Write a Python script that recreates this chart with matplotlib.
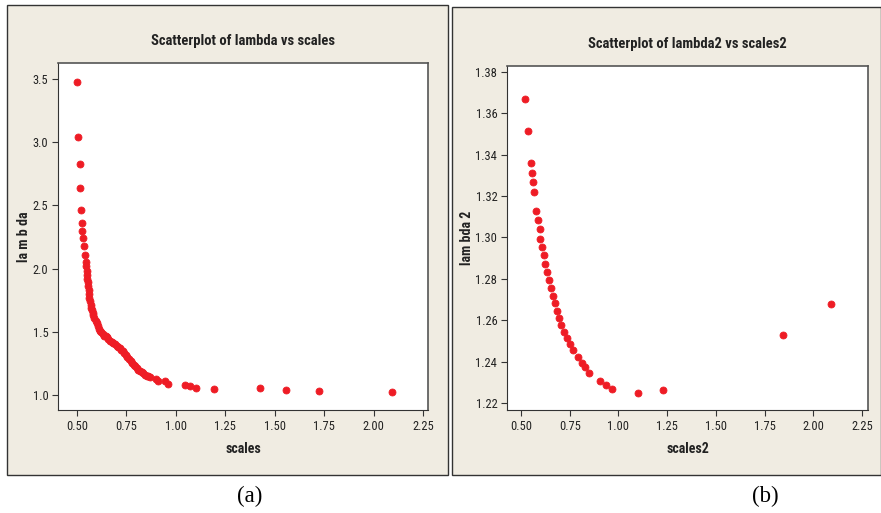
import matplotlib
matplotlib.use("Agg")
import matplotlib.pyplot as plt
from matplotlib.patches import Rectangle

# ==================================
# DATA
# ==================================
scales = [0.500, 0.507, 0.513, 0.517, 0.522, 0.525, 0.527, 0.532, 0.537, 0.540,
          0.545, 0.547, 0.549, 0.551, 0.553, 0.555, 0.557, 0.559, 0.561, 0.563,
          0.566, 0.569, 0.572, 0.575, 0.579, 0.583, 0.588, 0.594, 0.600, 0.606,
          0.612, 0.616, 0.622, 0.630, 0.638, 0.645, 0.650, 0.658, 0.666, 0.675,
          0.684, 0.692, 0.700, 0.709, 0.716, 0.724, 0.732, 0.740, 0.747, 0.755,
          0.763, 0.771, 0.779, 0.787, 0.795, 0.803, 0.811, 0.819, 0.828, 0.836,
          0.845, 0.852, 0.861, 0.869, 0.900, 0.911, 0.945, 0.962, 1.047, 1.072,
          1.102, 1.195, 1.424, 1.556, 1.725, 2.091]
lam = [3.48, 3.04, 2.83, 2.64, 2.46, 2.36, 2.30, 2.24, 2.18, 2.11,
       2.055, 2.02, 1.98, 1.95, 1.92, 1.89, 1.86, 1.83, 1.80, 1.77,
       1.74, 1.71, 1.69, 1.67, 1.65, 1.63, 1.61, 1.585, 1.567, 1.545,
       1.525, 1.51, 1.50, 1.485, 1.47, 1.465, 1.46, 1.445, 1.43, 1.42,
       1.41, 1.40, 1.39, 1.38, 1.37, 1.355, 1.345, 1.33, 1.315, 1.30,
       1.285, 1.27, 1.255, 1.24, 1.228, 1.215, 1.20, 1.19, 1.178, 1.17,
       1.16, 1.15, 1.152, 1.145, 1.13, 1.113, 1.11, 1.088, 1.079, 1.071,
       1.058, 1.047, 1.053, 1.040, 1.032, 1.021]

scales2 = [0.522, 0.536, 0.551, 0.556, 0.560, 0.568, 0.579, 0.587, 0.596, 0.599,
           0.608, 0.617, 0.623, 0.633, 0.642, 0.654, 0.663, 0.673, 0.685, 0.695,
           0.707, 0.722, 0.738, 0.753, 0.768, 0.791, 0.812, 0.830, 0.851, 0.907,
           0.938, 0.969, 1.102, 1.227, 1.843, 2.090]
lam2 = [1.3668, 1.3515, 1.3362, 1.3314, 1.3267, 1.3219, 1.3130, 1.3084, 1.3042, 1.2995,
        1.2955, 1.2913, 1.2872, 1.2835, 1.2795, 1.2758, 1.2718, 1.2683, 1.2647, 1.2612,
        1.2576, 1.2545, 1.2514, 1.2486, 1.2454, 1.2422, 1.2393, 1.2372, 1.2347, 1.2304,
        1.2285, 1.2267, 1.2246, 1.2264, 1.2529, 1.2678]

x_ticks = [0.50, 0.75, 1.00, 1.25, 1.50, 1.75, 2.00, 2.25]
y_ticks1 = [1.0, 1.5, 2.0, 2.5, 3.0, 3.5]
y_ticks2 = [1.22, 1.24, 1.26, 1.28, 1.30, 1.32, 1.34, 1.36, 1.38]

# ==================================
# FIGURE
# ==================================
W, H = 881, 513
fig = plt.figure(figsize=(W / 100, H / 100), dpi=100)
fig.patch.set_facecolor("white")

FAM = ["Roboto Condensed", "Liberation Sans Narrow", "Liberation Sans"]
BEIGE = "#f0ece2"
RED = "#ee1c25"


def px_rect(x0, y0, x1, y1):
    return [x0 / W, 1 - y1 / H, (x1 - x0) / W, (y1 - y0) / H]


# panel backgrounds with a dark border
for (x0, y0, x1, y1) in [(7, 5, 448, 475), (452, 7, 881, 475)]:
    l, b, w, h = px_rect(x0, y0, x1, y1)
    fig.add_artist(Rectangle((l, b), w, h, transform=fig.transFigure,
                             facecolor=BEIGE, edgecolor="#333333",
                             linewidth=1.0, zorder=0))

ax1 = fig.add_axes(px_rect(58, 63, 428, 410))
ax2 = fig.add_axes(px_rect(507, 66, 868, 410))

panels = [
    (ax1, scales, lam, (0.404, 2.275), (0.881, 3.627), y_ticks1, "%.1f",
     "Scatterplot of lambda vs scales", "scales", "la m b da"),
    (ax2, scales2, lam2, (0.428, 2.281), (1.2166, 1.3829), y_ticks2, "%.2f",
     "Scatterplot of lambda2 vs scales2", "scales2", "lam bda 2"),
]

for ax, xs, ys, xl, yl, yt, fmt, title, xlab, ylab in panels:
    ax.set_facecolor("white")
    ax.plot(xs, ys, linestyle="none", marker="o", markersize=5.0,
            markerfacecolor=RED, markeredgecolor=RED, markeredgewidth=0.6)
    ax.set_xlim(*xl)
    ax.set_ylim(*yl)
    ax.set_xticks(x_ticks)
    ax.set_xticklabels(["%.2f" % v for v in x_ticks])
    ax.set_yticks(yt)
    ax.set_yticklabels([fmt % v for v in yt])
    ax.tick_params(direction="out", length=4, width=0.8, color="#333333",
                   labelsize=9, pad=3)
    for lab in ax.get_xticklabels() + ax.get_yticklabels():
        lab.set_family(FAM)
        lab.set_color("#222222")
    for side in ["left", "bottom"]:
        ax.spines[side].set_color("#333333")
    for side in ["top", "right"]:
        ax.spines[side].set_color("#555555")
        ax.spines[side].set_linewidth(1.2)
    ax.set_title(title, family=FAM, fontsize=10.5, fontweight="bold",
                 color="#222222", pad=13)
    ax.set_xlabel(xlab, family=FAM, fontsize=10, fontweight="bold",
                  color="#222222", labelpad=7)
    ax.set_ylabel(ylab, family=FAM, fontsize=10, fontweight="bold",
                  color="#222222", labelpad=1)

fig.text(250 / W, 1 - 496 / H, "(a)", family=["Liberation Serif", "DejaVu Serif"],
         fontsize=16.5, ha="center", va="center")
fig.text(765 / W, 1 - 496 / H, "(b)", family=["Liberation Serif", "DejaVu Serif"],
         fontsize=16.5, ha="center", va="center")

fig.savefig("out.png", dpi=100, facecolor=fig.get_facecolor())
